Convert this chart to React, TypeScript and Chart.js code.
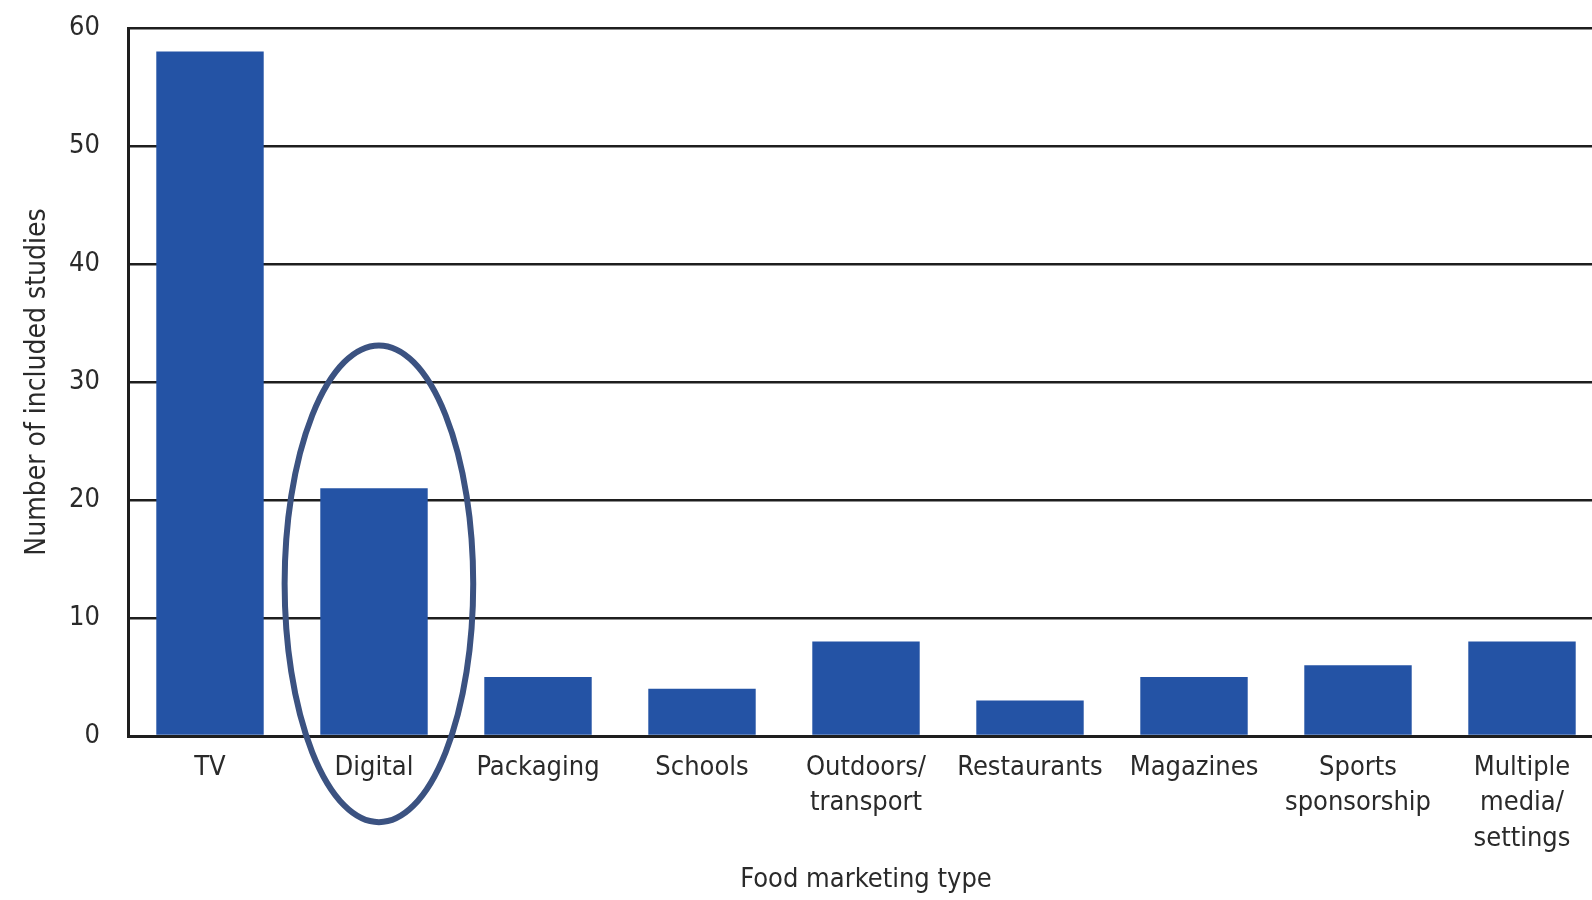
import React, { useEffect, useRef } from "react";
import { Chart, registerables } from "chart.js";

Chart.register(...registerables);

const categories: (string | string[])[] = [
  "TV",
  "Digital",
  "Packaging",
  "Schools",
  ["Outdoors/", "transport"],
  "Restaurants",
  "Magazines",
  ["Sports", "sponsorship"],
  ["Multiple", "media/", "settings"],
];
const studyCounts = [58, 21, 5, 4, 8, 3, 5, 6, 8];
const yTicks = [0, 10, 20, 30, 40, 50, 60];
const yTitle = "Number of included studies";
const xTitle = "Food marketing type";

// highlight ellipse around "Digital" (in data units)
const highlightIndex = 1.03;
const highlightCenterValue = 12.9;
const highlightHalfHeightValue = 20.2;
const highlightHalfWidthCategories = 0.575;

const FONT = "'DejaVu Sans Condensed', 'Liberation Sans Narrow', 'DejaVu Sans', sans-serif";
const TEXT = "#2a2a2a";
const GRID = "#1e1e1e";

const ellipsePlugin = {
  id: "highlightEllipse",
  afterDatasetsDraw(chart: any) {
    const x = chart.scales.x;
    const y = chart.scales.y;
    const catW = x.getPixelForValue(1) - x.getPixelForValue(0);
    const cx = x.getPixelForValue(0) + catW * highlightIndex;
    const cy = y.getPixelForValue(highlightCenterValue);
    const ry = Math.abs(y.getPixelForValue(highlightCenterValue + highlightHalfHeightValue) - cy);
    const rx = catW * highlightHalfWidthCategories;
    const ctx = chart.ctx;
    ctx.save();
    ctx.beginPath();
    ctx.ellipse(cx, cy, rx, ry, 0, 0, Math.PI * 2);
    ctx.strokeStyle = "#3b5281";
    ctx.lineWidth = 6;
    ctx.stroke();
    ctx.restore();
  },
};

export default function App() {
  const ref = useRef<HTMLCanvasElement | null>(null);

  useEffect(() => {
    if (!ref.current) return;
    const chart = new Chart(ref.current, {
      type: "bar",
      data: {
        labels: categories as any,
        datasets: [
          {
            data: studyCounts,
            backgroundColor: "#2453a5",
            borderWidth: 0,
            barPercentage: 0.655,
            categoryPercentage: 1,
          },
        ],
      },
      plugins: [ellipsePlugin],
      options: {
        responsive: false,
        animation: false,
        events: [],
        layout: { padding: { top: 28, left: 0, right: 0, bottom: 0 } },
        plugins: { legend: { display: false }, tooltip: { enabled: false } },
        scales: {
          x: {
            offset: true,
            grid: { display: false, drawTicks: false },
            border: { display: true, color: GRID, width: 3 },
            ticks: {
              padding: 14,
              color: TEXT,
              maxRotation: 0,
              autoSkip: false,
              font: { family: FONT, size: 27, lineHeight: 1.32 },
            },
            title: {
              display: true,
              text: xTitle,
              color: TEXT,
              font: { family: FONT, size: 27 },
              padding: { top: 0, bottom: 4 },
            },
            afterFit(scale: any) {
              scale.height = 164;
              scale.paddingLeft = 0;
              scale.paddingRight = 0;
            },
          },
          y: {
            min: 0,
            max: 60,
            afterBuildTicks(scale: any) {
              scale.ticks = yTicks.map((v) => ({ value: v }));
            },
            grid: { color: GRID, lineWidth: 2.5, drawTicks: false },
            border: { display: true, color: GRID, width: 3 },
            ticks: {
              padding: 28,
              color: TEXT,
              font: { family: FONT, size: 27 },
            },
            title: {
              display: true,
              text: yTitle,
              color: TEXT,
              font: { family: FONT, size: 28 },
              padding: { top: 21, bottom: 0 },
            },
            afterFit(scale: any) {
              scale.width = 128;
              scale.paddingTop = 0;
              scale.paddingBottom = 0;
            },
          },
        },
      },
    });
    return () => chart.destroy();
  }, []);

  return (
    <div
      style={{
        position: "absolute",
        left: 0,
        top: 0,
        width: 1592,
        height: 900,
        overflow: "hidden",
        background: "#fff",
      }}
    >
      <canvas ref={ref} width={1604} height={900} style={{ display: "block" }} />
    </div>
  );
}
